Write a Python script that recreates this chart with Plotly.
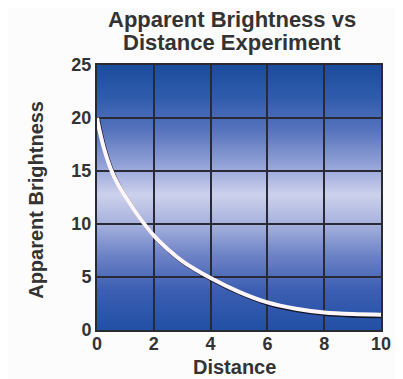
import base64
import plotly.graph_objects as go

# ---- data ----
distance = [0, 0.1, 0.25, 0.5, 0.75, 1, 1.5, 2, 2.5, 3, 4, 5, 6, 7, 8, 9, 10]
brightness = [20, 18.7, 17.1, 15.1, 13.7, 12.6, 10.6, 8.9, 7.6, 6.5, 4.9, 3.6, 2.6, 2.0, 1.65, 1.5, 1.45]
x_ticks = [0, 2, 4, 6, 8, 10]
y_ticks = [0, 5, 10, 15, 20, 25]

title_lines = ["Apparent Brightness vs", "Distance Experiment"]
x_title = "Distance"
y_title = "Apparent Brightness"

FONT = "Liberation Sans, Arial, sans-serif"
TXT = "#333333"

# vertical gradient background for plot area (SVG data URI)
svg = """<svg xmlns='http://www.w3.org/2000/svg' width='100' height='100' preserveAspectRatio='none' viewBox='0 0 100 100'>
<defs><linearGradient id='g' x1='0' y1='0' x2='0' y2='1'>
<stop offset='0' stop-color='#1c4c9e'/>
<stop offset='0.12' stop-color='#2f5bab'/>
<stop offset='0.25' stop-color='#5874bd'/>
<stop offset='0.38' stop-color='#94a3d8'/>
<stop offset='0.49' stop-color='#cdd1ec'/>
<stop offset='0.6' stop-color='#a6b1dd'/>
<stop offset='0.72' stop-color='#6c82c6'/>
<stop offset='0.85' stop-color='#3c5eb2'/>
<stop offset='1' stop-color='#2150a4'/>
</linearGradient></defs>
<rect x='0' y='0' width='100' height='100' fill='url(#g)'/></svg>"""
bg_uri = "data:image/svg+xml;base64," + base64.b64encode(svg.encode()).decode()

fig = go.Figure()

# invisible copy on the main axes (keeps the main subplot, ticks and grid)
fig.add_trace(go.Scatter(
    x=distance, y=brightness, mode="lines", opacity=0,
    hoverinfo="skip", showlegend=False))
# shadow of the curve (drawn on slightly shifted overlay axes)
fig.add_trace(go.Scatter(
    x=distance, y=brightness, xaxis="x2", yaxis="y2",
    mode="lines", line=dict(color="#15152a", width=3.5, shape="spline", smoothing=1),
    hoverinfo="skip", showlegend=False))
# main white curve (overlay axes identical to main axes, drawn above shadow)
fig.add_trace(go.Scatter(
    x=distance, y=brightness, xaxis="x3", yaxis="y3",
    mode="lines", line=dict(color="#fff6fa", width=4, shape="spline", smoothing=1),
    showlegend=False))

axis_common = dict(
    showgrid=True, gridcolor="#2a2a36", gridwidth=1.5, zeroline=False,
    showline=True, linecolor="#2a2a33", linewidth=2, mirror=True,
    ticks="", tickfont=dict(family=FONT, size=18, color=TXT, weight="bold"),
)

fig.update_layout(
    width=395, height=371,
    margin=dict(l=89, r=19, t=57, b=49),
    paper_bgcolor="#fcfcfd", plot_bgcolor="rgba(0,0,0,0)",
    xaxis=dict(range=[0, 10], tickvals=x_ticks, ticklabelstandoff=-4, **axis_common),
    yaxis=dict(range=[0, 25], tickvals=y_ticks, **axis_common),
    xaxis2=dict(range=[-0.05, 9.95], overlaying="x", visible=False),
    yaxis2=dict(range=[0.17, 25.17], overlaying="y", visible=False),
    xaxis3=dict(range=[0, 10], overlaying="x", visible=False),
    yaxis3=dict(range=[0, 25], overlaying="y", visible=False),
    images=[dict(source=bg_uri, xref="paper", yref="paper", x=0, y=1,
                 sizex=1, sizey=1, sizing="stretch", layer="below",
                 xanchor="left", yanchor="top")],
    annotations=[
        dict(text=title_lines[0], xref="paper", yref="paper", x=0.474, y=1.172,
             showarrow=False, xanchor="center", yanchor="middle",
             font=dict(family=FONT, size=22, color=TXT, weight="bold")),
        dict(text=title_lines[1], xref="paper", yref="paper", x=0.474, y=1.085,
             showarrow=False, xanchor="center", yanchor="middle",
             font=dict(family=FONT, size=22, color=TXT, weight="bold")),
        dict(text=x_title, xref="paper", yref="paper", x=0.484, y=-0.14,
             showarrow=False, xanchor="center", yanchor="middle",
             font=dict(family=FONT, size=20, color=TXT, weight="bold")),
        dict(text=y_title, xref="paper", yref="paper", x=-0.216, y=0.49,
             showarrow=False, xanchor="center", yanchor="middle", textangle=-90,
             font=dict(family=FONT, size=20, color=TXT, weight="bold")),
    ],
)

fig.write_html("out.html")
